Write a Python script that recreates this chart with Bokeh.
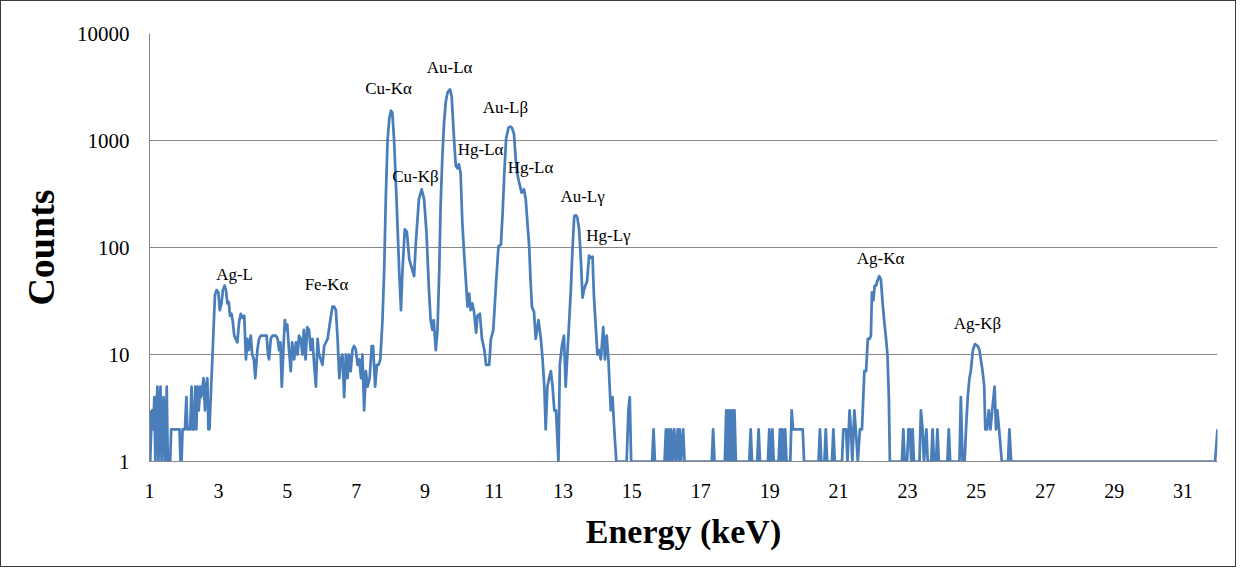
from bokeh.plotting import figure
from bokeh.models import FixedTicker, NumeralTickFormatter, Range1d, ColumnDataSource, LabelSet
from bokeh.embed import file_html
from bokeh.resources import INLINE

# ---- spectrum data ----
energy = [
    1.00, 1.02, 1.05, 1.08, 1.11, 1.14, 1.17, 1.20, 1.23, 1.26, 1.29, 1.32, 1.35, 1.38, 1.41, 1.44,
    1.47, 1.50, 1.53, 1.56, 1.60, 1.63, 1.70, 1.78, 1.87, 1.90, 1.93, 1.96, 2.03, 2.07, 2.10, 2.14,
    2.18, 2.22, 2.25, 2.29, 2.33, 2.36, 2.39, 2.43, 2.47, 2.50, 2.54, 2.57, 2.61, 2.64, 2.68, 2.71,
    2.74, 2.79, 2.84, 2.90, 2.95, 3.00, 3.04, 3.09, 3.13, 3.18, 3.22, 3.26, 3.30, 3.34, 3.38, 3.42,
    3.46, 3.50, 3.55, 3.60, 3.65, 3.70, 3.75, 3.80, 3.84, 3.88, 3.94, 3.98, 4.03, 4.07, 4.13, 4.18,
    4.23, 4.28, 4.33, 4.40, 4.44, 4.47, 4.52, 4.57, 4.62, 4.67, 4.72, 4.76, 4.80, 4.84, 4.90, 4.93,
    4.96, 5.00, 5.04, 5.10, 5.14, 5.20, 5.25, 5.30, 5.34, 5.39, 5.44, 5.48, 5.53, 5.58, 5.63, 5.68,
    5.73, 5.78, 5.83, 5.88, 5.92, 5.97, 6.02, 6.07, 6.12, 6.17, 6.24, 6.31, 6.36, 6.41, 6.46, 6.51,
    6.55, 6.60, 6.65, 6.70, 6.75, 6.79, 6.84, 6.89, 6.94, 6.99, 7.04, 7.09, 7.14, 7.18, 7.23, 7.28,
    7.33, 7.39, 7.45, 7.49, 7.55, 7.60, 7.65, 7.70, 7.76, 7.81, 7.86, 7.91, 7.96, 8.01, 8.05, 8.10,
    8.17, 8.25, 8.30, 8.34, 8.41, 8.47, 8.54, 8.61, 8.68, 8.73, 8.82, 8.90, 8.97, 9.04, 9.11, 9.16,
    9.21, 9.25, 9.31, 9.36, 9.41, 9.45, 9.50, 9.55, 9.60, 9.65, 9.72, 9.77, 9.84, 9.89, 9.94, 9.98,
    10.03, 10.08, 10.13, 10.18, 10.23, 10.28, 10.32, 10.37, 10.42, 10.48, 10.52, 10.59, 10.65, 10.72,
    10.77, 10.86, 10.91, 10.98, 11.06, 11.13, 11.20, 11.25, 11.30, 11.35, 11.42, 11.47, 11.52, 11.58,
    11.63, 11.68, 11.73, 11.80, 11.87, 11.92, 11.97, 12.02, 12.06, 12.10, 12.16, 12.21, 12.29, 12.36,
    12.41, 12.46, 12.50, 12.55, 12.60, 12.65, 12.70, 12.75, 12.80, 12.87, 12.91, 12.97, 13.03, 13.08,
    13.13, 13.18, 13.23, 13.28, 13.33, 13.38, 13.42, 13.47, 13.52, 13.57, 13.61, 13.65, 13.70, 13.76,
    13.81, 13.86, 13.90, 13.95, 14.00, 14.05, 14.10, 14.17, 14.22, 14.27, 14.32, 14.39, 14.44, 14.49,
    14.55, 14.85, 14.90, 14.94, 14.98, 15.59, 15.63, 15.67, 15.95, 15.99, 16.03, 16.07, 16.11, 16.14,
    16.18, 16.23, 16.27, 16.33, 16.36, 16.39, 16.43, 16.49, 16.53, 17.32, 17.36, 17.40, 17.70, 17.74,
    17.77, 17.80, 17.83, 17.86, 17.89, 17.92, 17.95, 17.98, 18.02, 18.41, 18.45, 18.49, 18.64, 18.68,
    18.72, 18.95, 18.99, 19.03, 19.05, 19.08, 19.12, 19.26, 19.30, 19.33, 19.37, 19.41, 19.45, 19.49,
    19.60, 19.64, 19.68, 19.75, 19.82, 19.90, 19.96, 20.00, 20.42, 20.46, 20.50, 20.59, 20.63, 20.67,
    20.81, 20.85, 20.89, 21.10, 21.14, 21.18, 21.22, 21.26, 21.32, 21.36, 21.40, 21.46, 21.50, 21.56,
    21.62, 21.68, 21.75, 21.80, 21.85, 21.90, 21.94, 21.97, 22.01, 22.05, 22.09, 22.13, 22.18, 22.23,
    22.28, 22.33, 22.38, 22.42, 22.46, 22.49, 22.84, 22.88, 22.92, 22.99, 23.03, 23.07, 23.11, 23.15,
    23.19, 23.35, 23.39, 23.44, 23.48, 23.55, 23.59, 23.69, 23.73, 23.77, 23.83, 23.87, 23.91, 24.16,
    24.20, 24.24, 24.51, 24.55, 24.60, 24.66, 24.70, 24.75, 24.80, 24.84, 24.90, 24.96, 25.04, 25.09,
    25.13, 25.18, 25.23, 25.26, 25.31, 25.36, 25.41, 25.46, 25.53, 25.57, 25.61, 25.66, 25.74, 25.92,
    25.96, 26.01, 31.93, 32.00,
]
counts = [
    3, 1, 2, 3, 2, 4, 1, 3, 5, 1, 3, 5, 1, 2, 4, 1,
    1, 5, 1, 1, 1, 2, 2, 2, 2, 1, 1, 2, 2, 4, 2, 2,
    2, 5, 2, 2, 5, 2, 5, 3, 5, 4, 5, 6, 3, 5, 6, 2,
    2, 5, 12, 36, 40, 38, 26, 30, 40, 44, 40, 30, 31, 23, 24, 20,
    15, 14, 13, 20, 24, 22, 23, 9, 14, 11, 15, 10, 9, 6, 11, 14,
    15, 15, 15, 15, 10, 9, 14, 15, 15, 15, 14, 11, 13, 5, 14, 21,
    17, 19, 12, 7, 13, 9, 13, 10, 15, 14, 10, 17, 9, 18, 17, 11,
    14, 8, 5, 14, 10, 9, 8, 12, 13, 14, 20, 28, 28, 26, 14, 6,
    9, 10, 4, 10, 6, 10, 7, 11, 12, 11, 8, 9, 6, 10, 3, 7,
    5, 6, 12, 12, 5, 8, 8, 9, 20, 58, 300, 1000, 1600, 1900, 1800, 1000,
    283, 58, 26, 58, 148, 140, 78, 65, 54, 110, 283, 350, 283, 138, 41, 21,
    17, 21, 11, 17, 60, 245, 700, 1470, 2300, 2800, 3000, 2600, 1030, 580, 550, 600,
    500, 171, 90, 51, 28, 37, 26, 30, 25, 16, 23, 24, 14, 11,
    8, 8, 14, 17, 47, 103, 106, 212, 500, 1030, 1320, 1350, 1320, 1150,
    670, 480, 405, 326, 350, 283, 170, 103, 50, 28, 25, 14, 21, 14,
    9, 5, 2, 5, 6, 7, 5, 3, 3, 1, 8, 12, 15, 5,
    10, 20, 40, 100, 197, 200, 190, 148, 78, 34, 40, 44, 48, 84,
    80, 82, 35, 19, 10, 11, 9, 18, 9, 15, 9, 3, 4, 2,
    1, 1, 3, 4, 1, 1, 2, 1, 1, 2, 1, 2, 1, 2,
    1, 2, 1, 2, 1, 2, 1, 2, 1, 1, 2, 1, 1, 3,
    1, 3, 1, 3, 1, 3, 1, 3, 1, 1, 2, 1, 1, 2,
    1, 1, 2, 1, 1, 2, 1, 1, 2, 1, 2, 1, 2, 1,
    1, 3, 2, 2, 2, 2, 2, 1, 1, 2, 1, 1, 2, 1,
    1, 2, 1, 1, 2, 2, 2, 1, 3, 2, 1, 3, 2, 1,
    2, 2, 7, 7, 14, 14, 15, 38, 32, 44, 44, 49, 54, 50,
    30, 20, 14, 10, 4, 1, 1, 2, 1, 1, 2, 2, 1, 2,
    1, 1, 3, 2, 1, 2, 1, 1, 2, 1, 1, 2, 1, 1,
    2, 1, 1, 4, 1, 1, 2, 4, 6, 7, 11, 12.5, 12, 11,
    9, 7, 5, 2, 2, 3, 2, 3, 5, 2, 3, 2, 1, 1,
    2, 1, 1, 2,
]

# ---- peak annotations ----
peak_names = ["Ag-L", "Fe-K\u03b1", "Cu-K\u03b1", "Cu-K\u03b2", "Au-L\u03b1", "Hg-L\u03b1",
              "Au-L\u03b2", "Hg-L\u03b1", "Au-L\u03b3", "Hg-L\u03b3", "Ag-K\u03b1", "Ag-K\u03b2"]
peak_x = [3.47, 6.14, 7.94, 8.72, 9.71, 10.61, 11.33, 12.06, 13.57, 14.32, 22.22, 25.03]
peak_y = [56, 45, 3060, 461, 4810, 824, 2034, 559, 300, 129, 79, 19.5]

x_ticks = list(range(1, 32, 2))
y_ticks = [1, 10, 100, 1000, 10000]

p = figure(width=1236, height=567, x_range=Range1d(1, 32), y_range=Range1d(1, 10000),
           y_axis_type="log", output_backend="svg", toolbar_location=None,
           min_border_left=148, min_border_right=20, min_border_top=32, min_border_bottom=107)
p.styles = {"border": "1px solid #3a3a3a"}
p.outline_line_color = None

p.line(energy, counts, line_color="#4a7ebb", line_width=2.75, line_join="round")

src = ColumnDataSource(dict(x=peak_x, y=peak_y, t=peak_names))
p.add_layout(LabelSet(x="x", y="y", text="t", source=src, text_align="center",
                      text_baseline="middle", text_font="Liberation Serif",
                      text_font_size="17px", text_color="#000000"))

grid_c = "#878787"
p.xgrid.visible = False
p.ygrid.grid_line_color = grid_c
p.ygrid.ticker = FixedTicker(ticks=y_ticks)
p.ygrid.minor_grid_line_color = None

xa = p.xaxis[0]
xa.ticker = FixedTicker(ticks=x_ticks)
xa.axis_line_color = grid_c
xa.major_tick_line_color = None
xa.minor_tick_line_color = None
xa.major_label_text_font = "Liberation Serif"
xa.major_label_text_font_size = "20px"
xa.major_label_text_color = "#000000"
xa.major_label_standoff = 16
xa.axis_label = "Energy (keV)"
xa.axis_label_text_font = "Liberation Serif"
xa.axis_label_text_font_style = "bold"
xa.axis_label_text_font_size = "34px"
xa.axis_label_text_color = "#000000"
xa.axis_label_standoff = 12

ya = p.yaxis[0]
ya.ticker = FixedTicker(ticks=y_ticks)
ya.formatter = NumeralTickFormatter(format="0")
ya.axis_line_color = grid_c
ya.major_tick_line_color = None
ya.minor_tick_line_color = None
ya.major_label_text_font = "Liberation Serif"
ya.major_label_text_font_size = "21px"
ya.major_label_text_color = "#000000"
ya.major_label_standoff = 14
ya.axis_label = "Counts"
ya.axis_label_text_font = "Liberation Serif"
ya.axis_label_text_font_style = "bold"
ya.axis_label_text_font_size = "38px"
ya.axis_label_text_color = "#000000"
ya.axis_label_standoff = 12

open("out.html", "w").write(file_html(p, INLINE))
